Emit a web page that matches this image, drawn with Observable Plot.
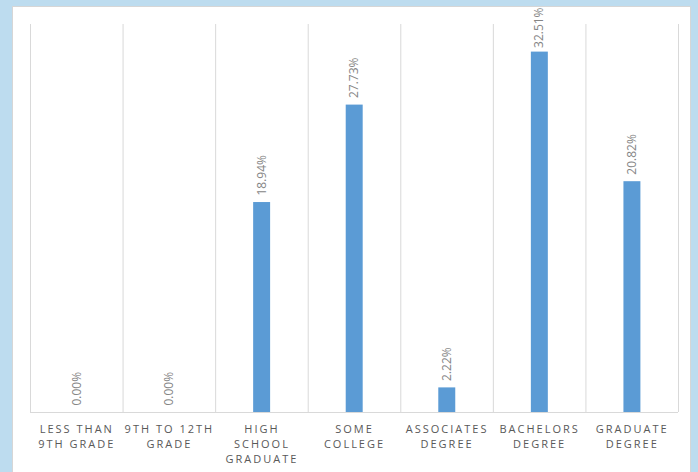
<!DOCTYPE html>
<html>
<head>
<meta charset="utf-8">
<script src="https://cdn.jsdelivr.net/npm/d3@7"></script>
<script src="https://cdn.jsdelivr.net/npm/@observablehq/plot@0.6"></script>
<style>
  html, body { margin: 0; padding: 0; background: #bddcef; width: 698px; height: 472px; overflow: hidden; }
  #panel { position: absolute; left: 12px; top: 6px; width: 679px; height: 480px; background: #fff; border: 1px solid #d6d6d6; box-sizing: border-box; }
  #chart { position: absolute; left: 0; top: 0; }
  #chart svg { background: transparent; }
  .xlab text { letter-spacing: 2px; }
</style>
</head>
<body>
<div id="panel"></div>
<div id="chart"></div>
<script>
const categories = ["Less than 9th grade", "9th to 12th grade", "High school graduate", "Some college", "Associates degree", "Bachelors degree", "Graduate degree"];
const tickLabels = ["LESS THAN\n9TH GRADE", "9TH TO 12TH\nGRADE", "HIGH\nSCHOOL\nGRADUATE", "SOME\nCOLLEGE", "ASSOCIATES\nDEGREE", "BACHELORS\nDEGREE", "GRADUATE\nDEGREE"];
const values = [0.00, 0.00, 18.94, 27.73, 2.22, 32.51, 20.82];
const yMax = 35;

const data = categories.map((c, i) => ({cat: c, idx: i, value: values[i], label: tickLabels[i]}));
const bounds = d3.range(categories.length + 1);

const chart = Plot.plot({
  width: 698,
  height: 472,
  marginLeft: 30,
  marginRight: 20,
  marginTop: 24,
  marginBottom: 60,
  style: {fontFamily: "'Open Sans', sans-serif", background: "transparent"},
  x: {domain: [0, categories.length], axis: null},
  y: {domain: [0, yMax], axis: null},
  marks: [
    Plot.ruleX(bounds, {x: d => d, y1: 0, y2: yMax, stroke: "#d9d9d9", strokeWidth: 1}),
    Plot.ruleY([0], {stroke: "#d9d9d9", strokeWidth: 1}),
    Plot.rectY(data, {x1: d => d.idx, x2: d => d.idx + 1, y1: 0, y2: "value", fill: "#5b9bd5", insetLeft: 38, insetRight: 37.6}),
    // labels are kept inside the chart area (pushed down when they would overflow the top)
    Plot.text(data, {x: d => d.idx + 0.5, y: d => Math.min(d.value, yMax - 2.75), text: d => d.value.toFixed(2) + "%", rotate: -90, textAnchor: "start", dy: -7, fill: "#858585", fontSize: 12}),
    Plot.axisX(data.map(d => d.idx + 0.5), {tickSize: 0, tickPadding: 10, tickFormat: v => tickLabels[Math.round(v - 0.5)], fill: "#595959", fontSize: 11, lineHeight: 1.36, lineAnchor: "top", className: "xlab"})
  ]
});
document.getElementById("chart").appendChild(chart);
</script>
</body>
</html>
